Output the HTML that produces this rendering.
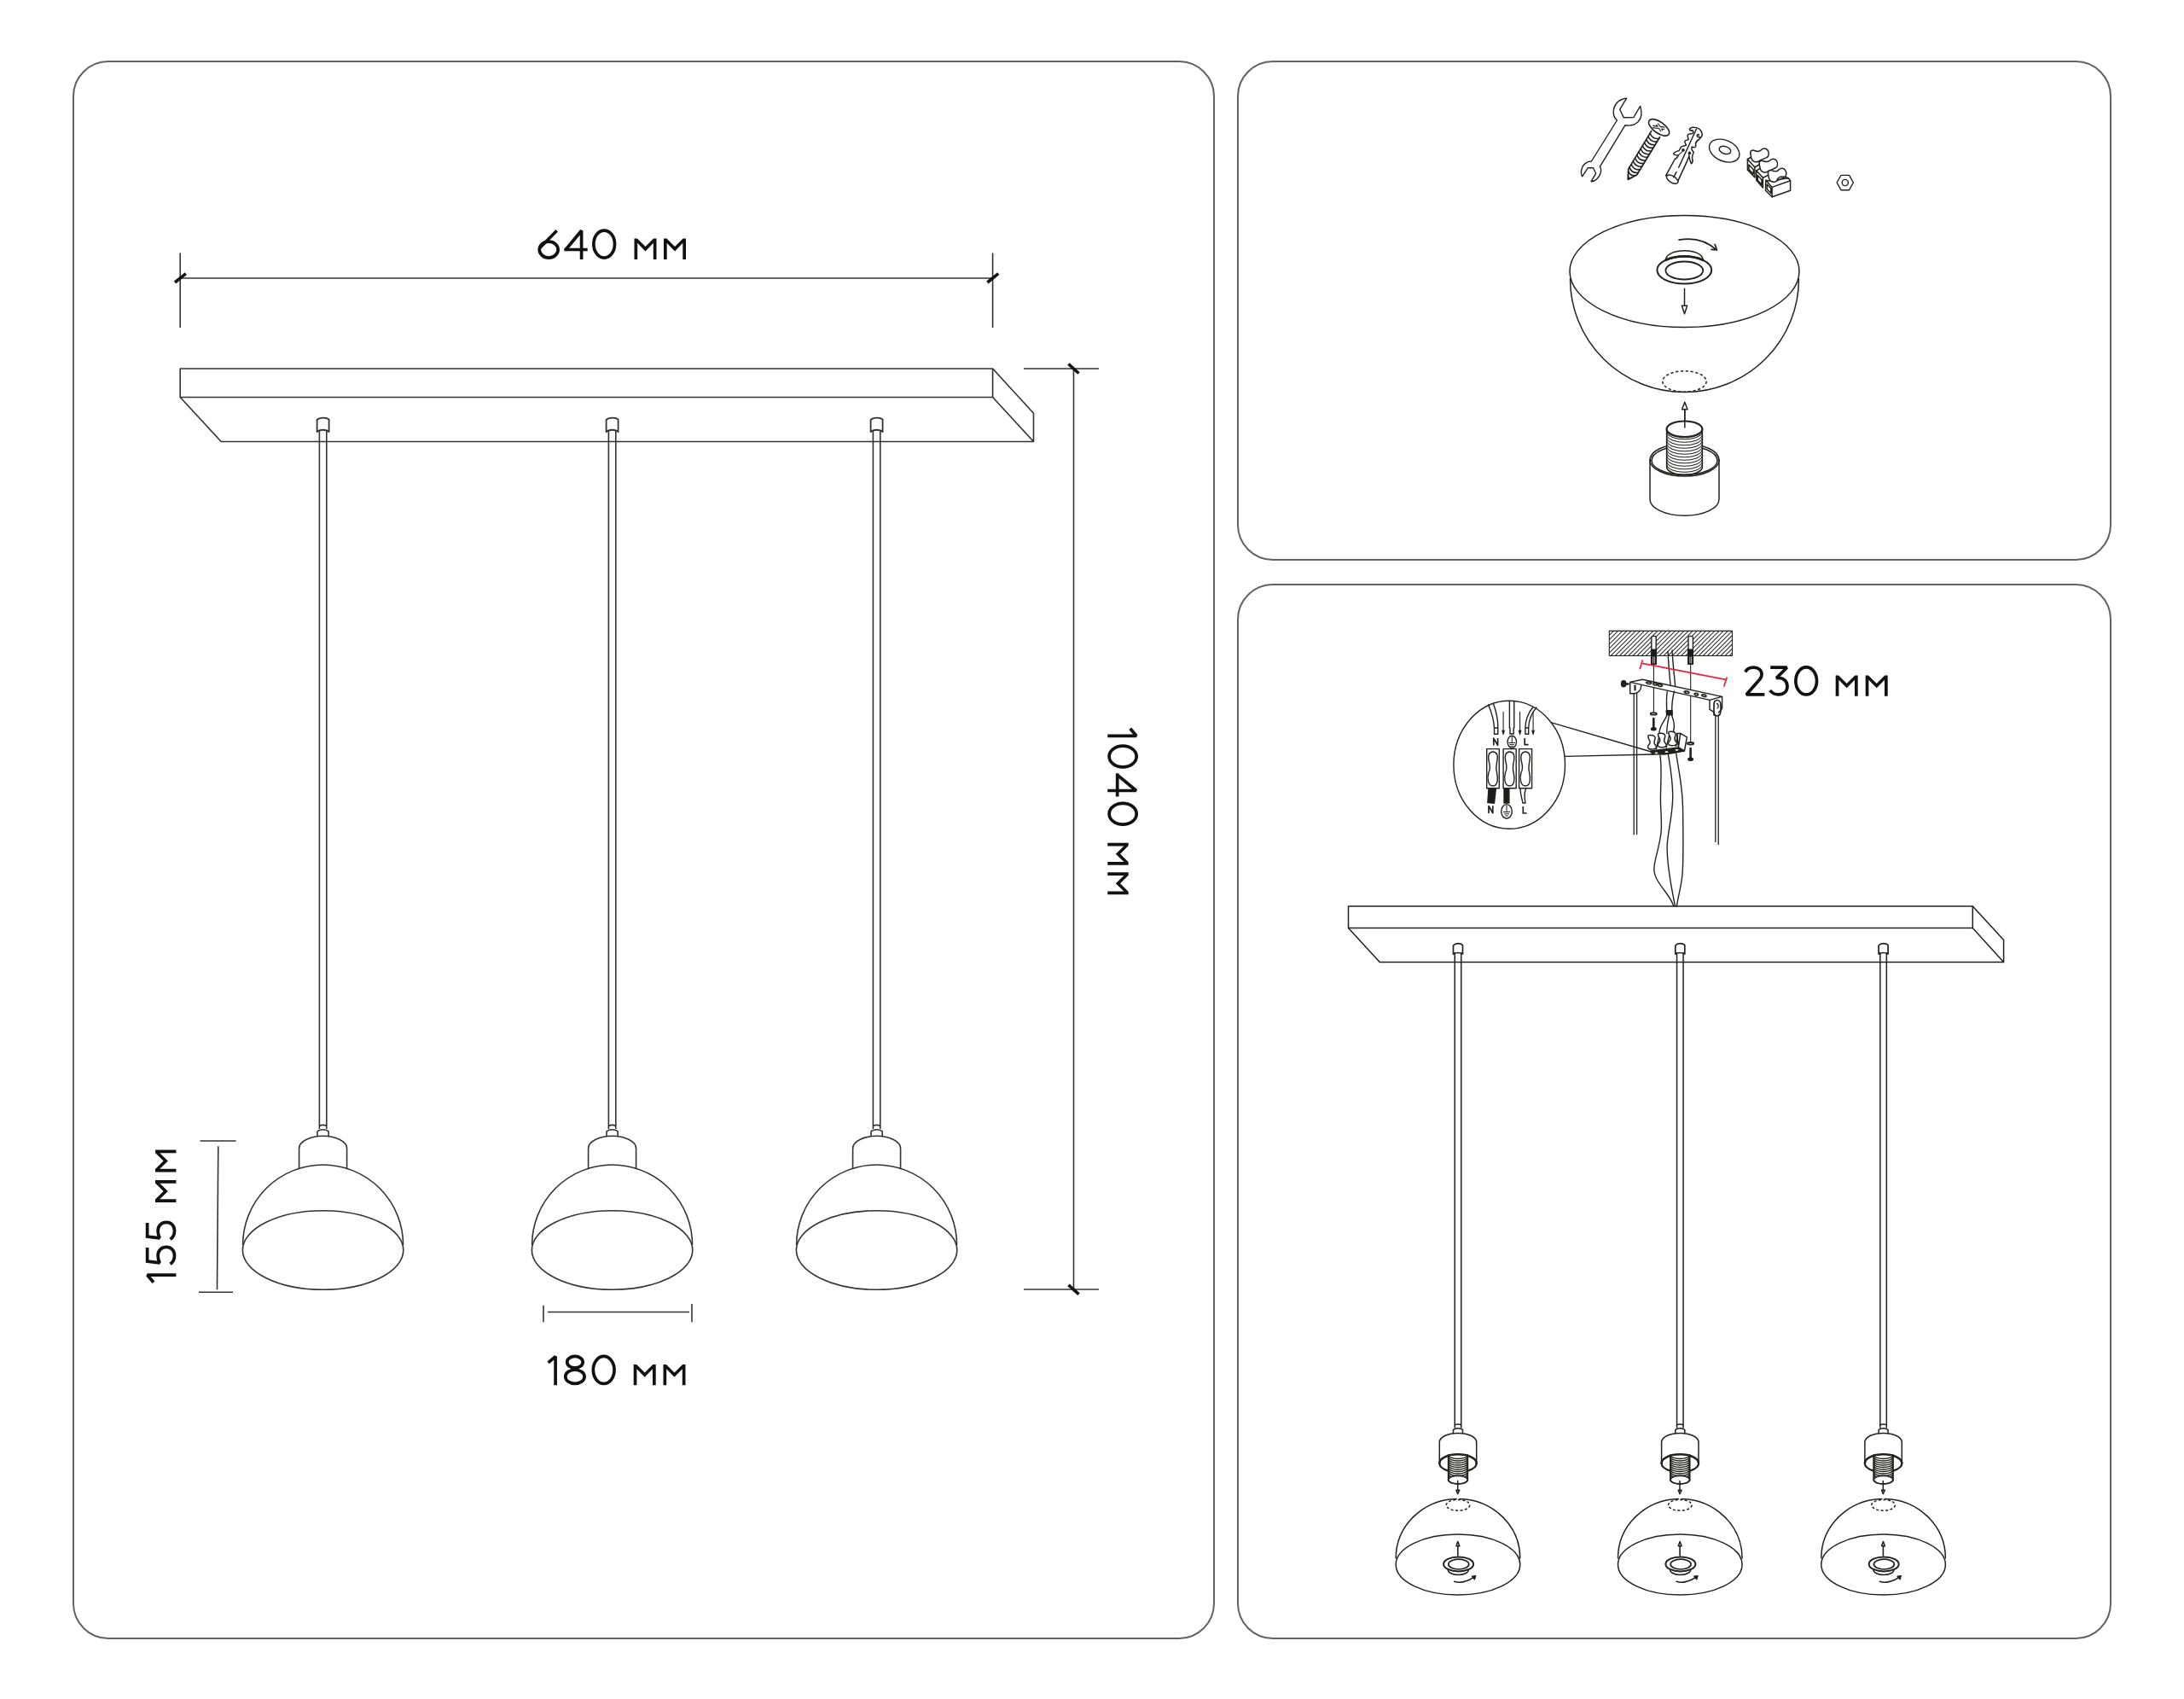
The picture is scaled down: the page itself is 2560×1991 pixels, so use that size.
<!DOCTYPE html>
<html><head><meta charset="utf-8">
<style>
html,body{margin:0;padding:0;background:#fff;}
svg{display:block;}
text{font-family:"Liberation Sans",sans-serif;fill:#111;}
</style></head>
<body>
<svg width="2560" height="1991" viewBox="0 0 2560 1991">
<rect x="0" y="0" width="2560" height="1991" fill="#fff"/>
<defs>
<g id="pendL" fill="none" stroke="#333330" stroke-width="1.6" stroke-linejoin="round">
<path d="M-7,506 V492 C-4,489 4,489 7,491.5 V506 C4,503 -4,503 -7,506 Z" stroke-width="1.8"/>
<path d="M-4.2,504 V1323 M4.2,504 V1323"/>
<path d="M-4.2,1319.5 C-2,1318 2,1318 4.2,1319.5"/>
<path d="M-6.6,1331.3 V1326 C-4,1323 4,1323 6.6,1326 V1331.3"/>
<path d="M-28,1369.5 V1346 C-28,1337 -14,1331.3 0,1331.3 C14,1331.3 28,1337 28,1346 V1369.5"/>
<path d="M-94,1459 A94,94 0 0 1 94,1459"/>
<ellipse cx="0" cy="1465" rx="94.2" ry="46.3"/>
</g>
<g id="pendR" fill="none" stroke="#22221c" stroke-width="1.5" stroke-linejoin="round" stroke-linecap="round">
<path d="M-5.5,1118 V1108 C-3,1105 3,1105 5.5,1107.5 V1118 C3,1116 -3,1116 -5.5,1118 Z" stroke-width="1.7"/>
<path d="M-3.75,1116.5 V1673 M3.75,1116.5 V1673"/>
<path d="M-3.75,1670 C-2,1668.6 2,1668.6 3.75,1670"/>
<path d="M-5.5,1679.4 V1675.5 C-3,1673 3,1673 5.5,1675.5 V1679.4"/>
<path d="M-21.7,1716 V1690 C-21.7,1684 -12,1679.4 0,1679.4 C12,1679.4 21.7,1684 21.7,1690 V1716"/>
<path d="M-21.7,1714.6 A21.7,10.3 0 0 1 21.7,1714.6" stroke-width="2.6"/>
<path d="M-11.3,1706 V1734 A11.3,4.8 0 0 0 11.3,1734 V1706" fill="#fff" stroke-width="1.8"/>
<path d="M-11.3,1704.80 A11.3,4.6 0 0 0 11.3,1704.80 M-11.3,1707.30 A11.3,4.6 0 0 0 11.3,1707.30 M-11.3,1709.80 A11.3,4.6 0 0 0 11.3,1709.80 M-11.3,1712.30 A11.3,4.6 0 0 0 11.3,1712.30 M-11.3,1714.80 A11.3,4.6 0 0 0 11.3,1714.80 M-11.3,1717.30 A11.3,4.6 0 0 0 11.3,1717.30 M-11.3,1719.80 A11.3,4.6 0 0 0 11.3,1719.80 M-11.3,1722.30 A11.3,4.6 0 0 0 11.3,1722.30 M-11.3,1724.80 A11.3,4.6 0 0 0 11.3,1724.80 M-11.3,1727.30 A11.3,4.6 0 0 0 11.3,1727.30 M-11.3,1729.80 A11.3,4.6 0 0 0 11.3,1729.80 " stroke-width="1.45"/>
<path d="M-21.7,1714.6 A21.7,10.3 0 0 0 -11.3,1723.6 M11.3,1723.6 A21.7,10.3 0 0 0 21.7,1714.6" stroke-width="2.2"/>
<ellipse cx="0" cy="1734.1" rx="11.3" ry="4.8" fill="#fff" stroke-width="1.8"/>
<path d="M-0.3,1735.6 V1747 M-2,1746.3 H1.8 L-0.3,1750.8 Z"/>
<path d="M-72.8,1826 A72.8,69.6 0 0 1 -1.8,1756.4 M1.8,1756.4 A72.8,69.6 0 0 1 72.8,1826"/>
<ellipse cx="0" cy="1763.8" rx="13.8" ry="6.4" stroke-dasharray="3 2.4" stroke-linecap="butt"/>
<ellipse cx="0" cy="1833.5" rx="72.8" ry="35.5"/>
<path d="M-0.2,1823 V1811.5 M-2,1811.7 L-0.2,1806.5 L1.8,1811.7 Z" stroke-width="1.6"/>
<path d="M-11.7,1839.5 A12,6 0 0 0 12.4,1839.5"/>
<ellipse cx="0.6" cy="1832.9" rx="17.5" ry="8.5" stroke-width="2" fill="#fff"/>
<ellipse cx="0.8" cy="1833.1" rx="12" ry="5.9" stroke-width="1.7"/>
<path d="M-4.2,1853.3 C0,1855 10,1855 19.9,1847.2" stroke-width="1.7"/>
<path d="M16.6,1847.2 L20.6,1846.7 L19.4,1850.7 Z" fill="#22221c"/>
</g>
</defs>

<!-- panels -->
<g fill="none" stroke="#626262" stroke-width="2">
<rect x="86" y="72" width="1337" height="1848" rx="41" ry="41"/>
<rect x="1451" y="72" width="1023" height="584" rx="41" ry="41"/>
<rect x="1451" y="685" width="1023" height="1235" rx="41" ry="41"/>
</g>

<!-- LEFT PANEL -->
<g id="left" fill="none" stroke="#333330" stroke-width="1.6" stroke-linejoin="round">
<!-- 640 dim -->
<line x1="211.2" y1="296.5" x2="211.2" y2="384"/>
<line x1="1163.6" y1="296.5" x2="1163.6" y2="384"/>
<line x1="211.2" y1="326" x2="1163.6" y2="326"/>
<!-- canopy -->
<path d="M211.2,432 H1163.6 V465.5 H211.2 Z"/>
<path d="M211.2,465.5 L259.2,517.5 H1211.5 V484.3 L1163.6,432 M1163.6,465.5 L1211.5,517.5"/>
<!-- 1040 dim -->
<line x1="1200" y1="432" x2="1288" y2="432"/>
<line x1="1200" y1="1511" x2="1288" y2="1511"/>
<line x1="1258.5" y1="432" x2="1258.5" y2="1511"/>
<!-- 155 dim -->
<line x1="234.5" y1="1337" x2="276.6" y2="1337"/>
<line x1="233" y1="1514.3" x2="273" y2="1514.3"/>
<line x1="255.8" y1="1343.3" x2="254.5" y2="1511.2"/>
<!-- 180 dim -->
<line x1="637" y1="1529.7" x2="637" y2="1549.3"/>
<line x1="811" y1="1528" x2="811" y2="1549.3"/>
<line x1="642" y1="1537.5" x2="808" y2="1537.5"/>
</g>
<!-- ticks -->
<g stroke="#15150f" stroke-width="3.6" stroke-linecap="butt">
<line x1="205" y1="331" x2="217.8" y2="320.6"/>
<line x1="1157.4" y1="331" x2="1170.2" y2="320.6"/>
<line x1="1252.4" y1="426.5" x2="1264.5" y2="437.5"/>
<line x1="1252.4" y1="1505.8" x2="1264.5" y2="1516.7"/>
</g>

<use href="#pendL" transform="translate(378.6,0)"/>
<use href="#pendL" transform="translate(717.6,0)"/>
<use href="#pendL" transform="translate(1027.6,0)"/>


<!-- TOP RIGHT PANEL -->
<g id="tr" fill="none" stroke="#22221c" stroke-width="1.5" stroke-linejoin="round" stroke-linecap="round">
<!-- dome -->
<ellipse cx="1974.5" cy="318" rx="134.5" ry="65.5"/>
<path d="M1840.5,327 A134,132.5 0 0 0 2108.5,327"/>
<!-- ring -->
<path d="M1952.4,304.5 C1954,290 1995,290 1996.2,304.5"/>
<ellipse cx="1974.3" cy="316.5" rx="31.9" ry="16.1" stroke-width="2"/>
<path d="M1952.4,304.8 A31.9,16.1 0 0 1 1996.2,304.8" stroke-width="2.8"/>
<ellipse cx="1974.3" cy="317" rx="21.9" ry="10.5" stroke-width="1.8"/>
<!-- rotate arrow -->
<path d="M1968,281.2 C1985,278 2000,282 2012,292.9 M2010.1,286.3 L2012.5,293 L2006,292.4" stroke-width="1.7"/>
<!-- down arrow -->
<path d="M1974.5,338.3 V358.3 M1971.4,358.3 H1977.7 L1974.5,367.7 Z"/>
<!-- dashed ellipse -->
<ellipse cx="1974.5" cy="447" rx="25.7" ry="12.2" stroke-dasharray="3.2 2.6" stroke-linecap="butt"/>
<!-- up arrow -->
<path d="M1974.8,480 V501 M1971.6,479.8 H1978 L1974.8,471.3 Z"/>
<!-- cup back rim -->
<path d="M1934,539 A40.5,19.1 0 0 1 2015,539" />
<path d="M1936,539.5 A38.5,17 0 0 1 2013,539.5" />
<!-- nipple -->
<path d="M1953.6,502.8 V547 A20.9,9.3 0 0 0 1995.4,547 V502.8 Z" fill="#fff"/>
<path d="M1953.8,506.50 A20.8,9.2 0 0 0 1995.2,506.50 M1953.8,510.00 A20.8,9.2 0 0 0 1995.2,510.00 M1953.8,513.50 A20.8,9.2 0 0 0 1995.2,513.50 M1953.8,517.00 A20.8,9.2 0 0 0 1995.2,517.00 M1953.8,520.50 A20.8,9.2 0 0 0 1995.2,520.50 M1953.8,524.00 A20.8,9.2 0 0 0 1995.2,524.00 M1953.8,527.50 A20.8,9.2 0 0 0 1995.2,527.50 M1953.8,531.00 A20.8,9.2 0 0 0 1995.2,531.00 M1953.8,534.50 A20.8,9.2 0 0 0 1995.2,534.50 M1953.8,538.00 A20.8,9.2 0 0 0 1995.2,538.00 M1953.8,541.50 A20.8,9.2 0 0 0 1995.2,541.50 M1953.8,545.00 A20.8,9.2 0 0 0 1995.2,545.00 M1953.8,548.50 A20.8,9.2 0 0 0 1995.2,548.50 " stroke-width="1.1"/>
<ellipse cx="1974.5" cy="502.8" rx="20.9" ry="9.3" stroke-width="2.2" fill="#fff"/>
<path d="M1974.8,480 V501"/>
<!-- cup front rim + walls -->
<path d="M1934,539 A40.5,19.1 0 0 0 2015,539" />
<path d="M1936,539.5 A38.5,17 0 0 0 2013,539.5" />
<path d="M1934,539 V585 A40.5,19.3 0 0 0 2015,585 V539"/>
</g>

<g id="tools" fill="none" stroke="#22221c" stroke-width="1.4" stroke-linejoin="round" stroke-linecap="round">
<!-- wrench -->
<path d="M1906.7,115.2 C1899,115.5 1893,121 1891.5,128 C1890.5,134 1892.5,138.5 1895.4,141 L1865.4,189 C1860,189 1855,193 1854,198 C1853,202 1853.5,205 1854.8,206.7 L1861.2,196.8 L1867.5,196.8 L1870.7,203.2 L1865.1,212.7 C1870,212.5 1874.5,208 1876,203 C1877,200 1876.5,197 1875.3,195.4 L1905,146.7 C1909,147.5 1915,147.5 1919.8,143.1 C1924,139 1925,132 1922.6,124.4 L1914.9,137.5 L1903.2,137.8 L1898.6,128.3 Z"/>
<!-- screw -->
<path d="M1935.8,153.4 L1908.7,198.1 L1908.2,210.4 L1918.8,204.7 L1945.5,160.7" stroke-width="1.7"/>
<path d="M1934.1,156.2 Q1936.9,163.2 1944.5,162.4 M1931.9,159.8 Q1934.7,166.8 1942.3,166.0 M1929.7,163.4 Q1932.5,170.5 1940.1,169.7 M1927.5,167.1 Q1930.3,174.1 1937.8,173.3 M1925.3,170.7 Q1928.1,177.8 1935.6,176.9 M1923.1,174.3 Q1925.9,181.4 1933.4,180.6 M1920.9,178.0 Q1923.7,185.0 1931.2,184.2 M1918.7,181.6 Q1921.5,188.7 1929.0,187.9 M1916.5,185.2 Q1919.3,192.3 1926.8,191.5 M1914.3,188.9 Q1917.1,195.9 1924.6,195.1 M1912.1,192.5 Q1914.9,199.6 1922.4,198.8 M1909.9,196.1 Q1912.7,203.2 1920.2,202.4 M1908.6,200.3 Q1910.5,206.9 1917.2,205.6 M1908.4,205.2 Q1908.3,210.5 1912.9,207.9 " stroke-width="1.6"/>
<ellipse cx="1944.6" cy="149.4" rx="14" ry="6.6" transform="rotate(35.5 1944.6 149.4)" fill="#fff" stroke-width="1.6"/>
<path d="M1937.2,148.5 L1951.3,150.3 M1942.4,145.2 L1948,153.6" stroke-width="3.4" stroke-linecap="butt"/>
<path d="M1937.2,148.5 L1951.3,150.3 M1942.4,145.2 L1948,153.6" stroke="#fff" stroke-width="1.2" stroke-linecap="butt"/>
<!-- anchor -->
<path d="M1952.6,205.9 L1963.2,186.5 C1966,185 1967.5,183 1966.8,182.1 C1964,182 1961,181 1962,179.5 C1964,177.5 1967.5,177 1968.5,175.9 L1970.7,171.9 L1976.5,170.2 C1976,168.5 1974,167 1975,165.5 C1976,164 1978,164 1979.1,163.5 C1978.5,161 1977.5,159 1978.5,157.8 C1980,156.5 1982.5,156.8 1983.5,156.5 C1985.5,155.5 1985,153 1983.5,152.9 C1982,152.5 1980.5,153.5 1980.4,151.5 C1981,149.5 1984,149 1986,149.2 C1990,149.5 1994,152 1995,156 C1996,159 1994.5,161 1992,161 C1989.5,161 1988.5,159 1989.5,158 C1990.5,157 1991.5,158 1991.3,158.8 M1995,156.5 C1996,160 1993,162 1991.5,163.5 C1989,165 1987.5,167 1987.5,168.5 C1988,171 1988,172.4 1985.3,172.8 L1983.5,171.9 C1982,173 1983,176 1985.3,178.5 C1984,181 1983.5,183.8 1983.5,185 C1984,187 1985,189.5 1982.7,191.8 C1981,190 1980.5,186 1980,183 L1977.4,189.1 L1966.8,212.1" stroke-width="1.5"/>
<ellipse cx="1960.2" cy="210.2" rx="7.6" ry="3.8" transform="rotate(32 1960.2 210.2)" stroke-width="1.5"/>
<path d="M1988.4,151.2 L1967.7,196.2 M1965,201.5 L1961.9,207.7" stroke-width="1.5"/>
<path d="M1980.4,151.5 C1982,154 1985,153 1983.5,152.9" stroke-width="1.2"/>
<circle cx="1973" cy="175.9" r="1.1" fill="#22221c"/>
<circle cx="1980.4" cy="179.4" r="1.1" fill="#22221c"/>
<path d="M1966.8,182.1 C1969,181 1971.5,178 1973,176 M1980,183 C1979.5,180 1980,179.5 1980.4,179.4" stroke-width="1.2"/>
<!-- washer -->
<ellipse cx="2021.2" cy="176.6" rx="18.6" ry="12.2" transform="rotate(24 2021.2 176.6)"/>
<ellipse cx="2022" cy="175.9" rx="7" ry="4.3" transform="rotate(18 2022 175.9)"/>
<!-- terminal block -->
<g stroke-width="1.5">
<path d="M2048.4,199.1 L2056.9,207.9 L2056.9,196 L2048.4,186.5 Z M2050,193 L2055.3,198.8 L2055.3,204 L2050,198.5 Z" fill="#fff"/>
<path d="M2048.4,186.5 L2053,184 M2056.9,196 L2062,193"/>
<path d="M2052,181 C2051,176.5 2054,175.5 2056.5,176.5 C2059,177.5 2061.5,178.5 2064,176 C2066,173.5 2070,173 2072,176 C2074,179 2073.5,183 2071,184.5 C2068,186.5 2064.5,186.5 2061.5,189 C2058,191 2054,189 2053,186 Z" fill="#fff"/>
<path d="M2058.8,211.3 L2066.4,220.1 L2066.4,208.3 L2058.8,199.9 Z M2060.3,205.5 L2065,210.8 L2065,216.5 L2060.3,211.2 Z" fill="#fff"/>
<path d="M2058.8,199.9 L2063,197.5 M2066.4,208.3 L2072,205.5"/>
<path d="M2062.3,193.2 C2061.3,188.7 2064.3,187.7 2066.8,188.7 C2069.3,189.7 2071.8,190.7 2074.3,188.2 C2076.3,185.7 2080.3,185.2 2082.3,188.2 C2084.3,191.2 2083.8,195.2 2081.3,196.7 C2078.3,198.7 2074.8,198.7 2071.8,201.2 C2068.3,203.2 2064.3,201.2 2063.3,198.2 Z" fill="#fff"/>
<path d="M2069.5,223.2 L2077.1,230.8 L2098.6,223.2 L2098.6,211.7 L2096.3,208.7 L2073,212 L2069.9,211.3 Z" fill="#fff"/>
<path d="M2069.9,211.3 L2077.1,219.4 L2098.6,211.7 M2077.1,219.4 V230.8 M2071.2,216 L2075.8,220.7 L2075.8,226.5 L2071.2,221.6 Z"/>
<path d="M2072.6,204.4 C2071.6,199.9 2074.6,198.9 2077.1,199.9 C2079.6,200.9 2082.1,201.9 2084.6,199.4 C2086.6,196.9 2090.6,196.4 2092.6,199.4 C2094.6,202.4 2094.1,206.4 2091.6,207.9 C2088.6,209.9 2085.1,209.9 2082.1,212.4 C2078.6,214.4 2074.6,212.4 2073.6,209.4 Z" fill="#fff"/>
<path d="M2083,210.5 C2085,207 2089,206.5 2093,207.5 L2096.3,208.7" fill="none"/>
</g>
<!-- nut -->
<path d="M2153.1,214 L2158,205.4 L2167.6,205.4 L2172.4,214 L2167.6,222.7 L2158,222.7 Z"/>
<circle cx="2162.8" cy="214" r="3.6"/>
</g>

<!-- BOTTOM RIGHT PANEL -->
<g id="br" fill="none" stroke="#22221c" stroke-width="1.5" stroke-linejoin="round">
<path d="M1580.5,1062 H2312.3 V1087.6 H1580.5 Z"/>
<path d="M1580.5,1087.6 L1617.3,1127.5 H2348.6 V1101.5 L2312.3,1062 M2312.3,1087.6 L2348.6,1127.5"/>
</g>
<use href="#pendR" transform="translate(1709,0)"/>
<use href="#pendR" transform="translate(1969.3,0)"/>
<use href="#pendR" transform="translate(2207.6,0)"/>

<clipPath id="hclip"><rect x="1886.3" y="739.4" width="144.2" height="29.1"/></clipPath>
<g id="brtop" fill="none" stroke="#22221c" stroke-width="1.4" stroke-linejoin="round" stroke-linecap="round">
<g clip-path="url(#hclip)"><path d="M1857.2,768.5 L1886.3,739.4 M1862.3,768.5 L1891.4,739.4 M1867.5,768.5 L1896.6,739.4 M1872.7,768.5 L1901.8,739.4 M1877.8,768.5 L1906.9,739.4 M1883.0,768.5 L1912.1,739.4 M1888.1,768.5 L1917.2,739.4 M1893.3,768.5 L1922.4,739.4 M1898.4,768.5 L1927.5,739.4 M1903.6,768.5 L1932.7,739.4 M1908.7,768.5 L1937.8,739.4 M1913.9,768.5 L1943.0,739.4 M1919.0,768.5 L1948.1,739.4 M1924.2,768.5 L1953.3,739.4 M1929.3,768.5 L1958.4,739.4 M1934.5,768.5 L1963.6,739.4 M1939.6,768.5 L1968.7,739.4 M1944.8,768.5 L1973.9,739.4 M1949.9,768.5 L1979.0,739.4 M1955.1,768.5 L1984.2,739.4 M1960.2,768.5 L1989.3,739.4 M1965.4,768.5 L1994.5,739.4 M1970.5,768.5 L1999.6,739.4 M1975.7,768.5 L2004.8,739.4 M1980.8,768.5 L2009.9,739.4 M1986.0,768.5 L2015.1,739.4 M1991.1,768.5 L2020.2,739.4 M1996.3,768.5 L2025.4,739.4 M2001.4,768.5 L2030.5,739.4 M2006.6,768.5 L2035.7,739.4 M2011.7,768.5 L2040.8,739.4 M2016.9,768.5 L2046.0,739.4 M2022.0,768.5 L2051.1,739.4 M2027.2,768.5 L2056.3,739.4 " stroke-width="1.1" stroke="#353532"/></g>
<rect x="1886.3" y="739.4" width="144.2" height="29.1" stroke-width="1.1"/>
<!-- ceiling anchors -->
<path d="M1935.8,778 V746.5 C1937,745 1940,745 1941.2,746.5 V778 Z" fill="#fff"/>
<path d="M1935.8,761 H1941.2 V778.5 H1935.8 Z" fill="#1c1c18" stroke-width="1"/>
<path d="M1937.6,770 V777 M1939.4,770 V777" stroke="#fff" stroke-width="0.7"/>
<path d="M1979,778 V746.5 C1980,745 1983,745 1984.4,746.5 V778 Z" fill="#fff"/>
<path d="M1979,761 H1984.4 V778.5 H1979 Z" fill="#1c1c18" stroke-width="1"/>
<path d="M1980.8,770 V777 M1982.6,770 V777" stroke="#fff" stroke-width="0.7"/>
<path d="M1938.4,778.5 V834 M1981.7,778.5 V869.5" stroke-width="1.1"/>
<!-- cable from ceiling -->
<path d="M1955,763.5 C1956,780 1957,795 1958.5,806 M1960,762 C1961,780 1963,795 1963.8,806" fill="none"/>
<path d="M1958.5,806 C1959,808 1963,808 1963.8,806" />
<!-- bracket -->
<path d="M1910.7,799.4 L1925.3,796.2 L2018.6,816.4 L2004,820.4 Z" fill="#fff"/>
<path d="M1910.7,799.4 V812.7 H1916 C1920,812 1923.7,809 1923.7,803.3"/>
<path d="M2004,820.4 V831.4 L2009.2,834.7 M2018.6,816.4 V830.2 L2014.5,835"/>
<path d="M2009,838 V826 C2009,822 2011,820.5 2013,820.5 C2015.5,820.5 2017,823 2017,826 V832 C2017,836 2015.5,839 2013,839 C2011,839 2009,837 2009,834" stroke-width="1.7"/>
<path d="M2012.5,824.5 C2014.5,825 2015,829 2013,830" stroke-width="1.3"/>
<path d="M1916.5,803.5 V808.5" stroke-width="2.2"/>
<ellipse cx="1903.2" cy="801.3" rx="2.7" ry="3.6" fill="#22221c"/>
<path d="M1905,801.5 H1908.5" stroke-width="2.6"/>
<path d="M1929.5,799.8 C1931,798.5 1935.5,799 1935.5,800.8 C1934,802 1930.5,801.5 1929.5,799.8 Z M1937.5,801 C1939,799.8 1942.5,800.5 1942,802.5 C1940.5,803.5 1938,803 1937.5,801 Z M1942.5,802.3 C1944,801 1949,802 1948.5,803.8 C1947,805 1943.5,804.3 1942.5,802.3 Z" stroke-width="1.6"/>
<path d="M1974,810.6 C1975.5,809.3 1980,810 1980,811.8 C1978.5,813 1975,812.5 1974,810.6 Z M1986,813 C1987.5,811.7 1991,812.5 1990.5,814.5 C1989,815.5 1986.5,815 1986,813 Z M1994.5,814.5 C1996,813.2 2000.5,814 2000,816 C1998.5,817 1995.5,816.5 1994.5,814.5 Z" stroke-width="1.6"/>
<!-- cable below bracket -->
<path d="M1954.2,810.5 C1953,818 1953.5,826 1953.8,833.5 M1962.5,810 C1960.5,818 1959.5,826 1959.8,833.5"/>
<path d="M1953.2,832.8 L1960,832.8 L1960.3,837.8 L1953.6,837.8 Z" fill="#1c1c18"/>
<path d="M1954,838 C1951,846 1944.5,850 1945,860 M1956.5,838 C1955,846 1953.5,852 1953.8,859.5 M1959.5,838 C1962,845 1963.5,850 1961.5,857.5"/>
<!-- screws / washers -->
<ellipse cx="1938.3" cy="836.4" rx="3.6" ry="1.3" stroke-width="1.8"/>
<path d="M1938.3,842 V853" stroke-width="2.6"/>
<ellipse cx="1938.3" cy="854.2" rx="2.8" ry="1.5" fill="#1c1c18"/>
<ellipse cx="1981.6" cy="871.3" rx="3.6" ry="1.3" stroke-width="1.8"/>
<path d="M1981.6,877 V888.5" stroke-width="2.6"/>
<ellipse cx="1981.6" cy="889.8" rx="2.8" ry="1.5" fill="#1c1c18"/>
<!-- terminal block -->
<path d="M1965.6,859.4 L1969.7,859.4 L1977.4,863.8 L1974.4,880 L1967.4,875.9 Z M1969.7,859.4 L1967.4,875.9" fill="#fff" stroke-width="1.5"/>
<path d="M1934.7,880 L1967.4,876 L1974.4,880 L1962.4,882.4 L1950.6,884.1 L1936.8,883.8 Z" fill="#22221c" stroke-width="1.4"/>
<ellipse cx="1941.5" cy="882.3" rx="2" ry="0.9" fill="#fff" stroke="none"/>
<ellipse cx="1953.5" cy="881.2" rx="2" ry="0.9" fill="#fff" stroke="none"/>
<ellipse cx="1965.5" cy="878.8" rx="2" ry="0.9" fill="#fff" stroke="none"/>
<path d="M1941.3,878 L1944.5,864 M1953.2,876 L1956.5,862 M1964.5,874.5 L1966,861" stroke-width="1.4"/>
<path d="M1933.6,861.6 C1937.6,861.1 1940.6,862.6 1940.1,865.6 C1939.6,867.6 1938.6,868.6 1939.1,871.1 C1939.6,872.6 1941.6,874.1 1941.6,875.6 C1941.6,877.6 1938.6,878.1 1935.6,878.1 C1932.6,878.1 1931.1,876.6 1931.6,874.6 C1932.1,873.1 1934.1,872.1 1934.1,869.6 C1934.1,867.6 1932.6,866.6 1932.1,864.6 C1931.6,862.6 1931.6,861.6 1933.6,861.6 Z" fill="#fff" stroke-width="1.5"/>
<path d="M1945.3,859.3 C1949.3,858.8 1952.3,860.3 1951.8,863.3 C1951.3,865.3 1950.3,866.3 1950.8,868.8 C1951.3,870.3 1953.3,871.8 1953.3,873.3 C1953.3,875.3 1950.3,875.8 1947.3,875.8 C1944.3,875.8 1942.8,874.3 1943.3,872.3 C1943.8,870.8 1945.8,869.8 1945.8,867.3 C1945.8,865.3 1944.3,864.3 1943.8,862.3 C1943.3,860.3 1943.3,859.3 1945.3,859.3 Z" fill="#fff" stroke-width="1.5"/>
<path d="M1957.6,857.3 C1961.6,856.8 1964.6,858.3 1964.1,861.3 C1963.6,863.3 1962.6,864.3 1963.1,866.8 C1963.6,868.3 1965.6,869.8 1965.6,871.3 C1965.6,873.3 1962.6,873.8 1959.6,873.8 C1956.6,873.8 1955.1,872.3 1955.6,870.3 C1956.1,868.8 1958.1,867.8 1958.1,865.3 C1958.1,863.3 1956.6,862.3 1956.1,860.3 C1955.6,858.3 1955.6,857.3 1957.6,857.3 Z" fill="#fff" stroke-width="1.5"/>
<!-- wires down -->
<path d="M1945.9,885.3 C1948.5,900 1946,925 1946.5,940.7 C1947,955 1948,965 1947.1,975 C1945,995 1938,1010 1938.9,1020 C1940,1035 1958,1048 1961.8,1062"/>
<path d="M1955.4,884.1 C1958,900 1961,915 1960.7,935 C1960.5,955 1955,975 1954.2,990 C1953.5,1010 1959,1040 1963.6,1062"/>
<path d="M1964.8,883 C1967,900 1972,920 1972.5,945 C1973,975 1973.5,1005 1972,1025 C1970.5,1040 1967,1050 1965.4,1062"/>
<!-- rods -->
<path d="M1915.2,812.5 V977.8 M1918.6,812.5 V977.8" stroke-width="1.3"/>
<path d="M2010.8,838 V986.6 M2014.2,838 V989.6" stroke-width="1.3"/>

<!-- magnifier -->
<ellipse cx="1769.2" cy="896.3" rx="65.3" ry="75"/>
<path d="M1818,846.6 L1935.5,881 M1834.5,886.4 L1939,884"/>
<path d="M1744.7,826 C1748,834 1751,842 1751.5,853 M1750.5,825 C1754,834 1756,842 1755.8,853 M1751.5,853 H1755.8 V860.3 H1751.5 Z"/>
<path d="M1769.4,822 V853 M1774.8,822 V853 M1770,853 V860 H1774.2 V853"/>
<path d="M1797,828.5 C1791,836 1788,843 1787.9,853 M1801,829 C1795,836 1792,843 1791.7,853 M1787.9,853 H1791.7 V860.3 H1787.9 Z"/>
<path d="M1762.1,834.4 V860.6 M1760.8,856 L1762.1,860.6 L1763.4,856 M1781.6,834.4 V860.6 M1780.3,856 L1781.6,860.6 L1782.9,856 M1797.1,834.4 V860.6 M1795.8,856 L1797.1,860.6 L1798.4,856" stroke-width="1.1"/>
<path d="M1742.7,877.6 H1757.3 V923.7 H1742.7 Z M1762.1,877.6 H1777.2 V923.7 H1762.1 Z M1780.6,877.6 H1795.6 V923.7 H1780.6 Z"/>
<path d="M1750,881 C1745,881 1744,886 1745,891 C1746,896 1748,900 1745,905 C1743,912 1744,921 1750,921 C1756,921 1756,912 1754.5,905 C1753,900 1754,896 1755,891 C1756,886 1755,881 1750,881 Z"/>
<path d="M1769.6,881 C1764.6,881 1763.6,886 1764.6,891 C1765.6,896 1767.6,900 1764.6,905 C1762.6,912 1763.6,921 1769.6,921 C1775.6,921 1775.6,912 1774.1,905 C1772.6,900 1773.6,896 1774.6,891 C1775.6,886 1774.6,881 1769.6,881 Z"/>
<path d="M1788.1,881 C1783.1,881 1782.1,886 1783.1,891 C1784.1,896 1786.1,900 1783.1,905 C1781.1,912 1782.1,921 1788.1,921 C1794.1,921 1794.1,912 1792.6,905 C1791.1,900 1792.1,896 1793.1,891 C1794.1,886 1793.1,881 1788.1,881 Z"/>
<path d="M1745,924 L1753.4,924 L1751.5,941.2 L1743.8,940.5 Z M1763,924 H1768.9 V941 H1763 Z" fill="#1c1c18"/>
<path d="M1782,924 C1782,930 1784,936 1785,941 L1788,941 C1787,936 1786.5,930 1788.5,924"/>
<ellipse cx="1772.3" cy="869.4" rx="5.2" ry="7.2" fill="#fff"/>
<path d="M1772.3,863.5 V870.5 M1769,870.5 H1775.6 M1769.9,872.6 H1774.7 M1771,874.6 H1773.6" stroke-width="1"/>
<ellipse cx="1766" cy="950.9" rx="6.3" ry="8.3"/>
<path d="M1766,944 V951.5 M1762.3,951.5 H1769.7 M1763.4,953.8 H1768.6 M1764.6,956 H1767.4" stroke-width="1"/>
</g>
<g fill="none" stroke="#22221c" stroke-width="1.7" stroke-linejoin="round" stroke-linecap="butt">
<path d="M1750.8,873.5 V865.2 L1755.6,873.3 V865"/>
<path d="M1787.2,865 V872.6 H1791.6"/>
<path d="M1745,953 V944.5 L1749.8,952.8 V944.3"/>
<path d="M1785.3,945 V953 H1789.6"/>
</g>
<!-- red dim -->
<g stroke="#e8253c" stroke-width="1.7" fill="none">
<path d="M1925,777.3 L2022.9,796.3 M1925.4,773.2 L1922.1,784.2 M2024.3,793.4 L2020.7,804.7"/>
</g>
<!-- LABELS -->
<g transform="translate(0,303.9)" fill="none" stroke="#111" stroke-width="3.7" stroke-linejoin="miter" stroke-miterlimit="1.6" stroke-linecap="butt"><g transform="translate(630.4,0)"><ellipse cx="12.8" cy="-11.35" rx="10.95" ry="9.5"/><path d="M22.3,-33.6 L2.6,-13.6"/></g><g transform="translate(661.3,0)"><path d="M0,-11.4 H27.4 M20.3,0 V-33.6 L1.9,-11.4"/></g><g transform="translate(694,0)"><ellipse cx="14.2" cy="-17.85" rx="12.35" ry="16"/></g><g transform="translate(743.5,0)"><path d="M0,0 H3.7 V-19.1 L13,-9.5 L22.3,-19.1 V0 H26 V-24.4 H22.6 L13,-14.8 L3.4,-24.4 H0 Z" fill="#111" stroke="none"/></g><g transform="translate(778,0)"><path d="M0,0 H3.7 V-19.1 L13,-9.5 L22.3,-19.1 V0 H26 V-24.4 H22.6 L13,-14.8 L3.4,-24.4 H0 Z" fill="#111" stroke="none"/></g></g>
<g transform="translate(0,1623.3)" fill="none" stroke="#111" stroke-width="3.7" stroke-linejoin="miter" stroke-miterlimit="1.6" stroke-linecap="butt"><g transform="translate(641.3,0)"><path d="M1.3,-26.4 L9.8,-33.75 V0"/></g><g transform="translate(660.9,0)"><ellipse cx="13.05" cy="-27.1" rx="9.25" ry="6.75"/><ellipse cx="13.05" cy="-9.95" rx="11.2" ry="8.1"/></g><g transform="translate(693.5,0)"><ellipse cx="14.2" cy="-17.85" rx="12.35" ry="16"/></g><g transform="translate(742.7,0)"><path d="M0,0 H3.7 V-19.1 L13,-9.5 L22.3,-19.1 V0 H26 V-24.4 H22.6 L13,-14.8 L3.4,-24.4 H0 Z" fill="#111" stroke="none"/></g><g transform="translate(777.5,0)"><path d="M0,0 H3.7 V-19.1 L13,-9.5 L22.3,-19.1 V0 H26 V-24.4 H22.6 L13,-14.8 L3.4,-24.4 H0 Z" fill="#111" stroke="none"/></g></g>
<g transform="translate(0,815.8)" fill="none" stroke="#111" stroke-width="3.7" stroke-linejoin="miter" stroke-miterlimit="1.6" stroke-linecap="butt"><g transform="translate(2044.5,0)"><path d="M1.5,-28.2 C2.8,-32 6.8,-33.6 11.2,-33.6 C16.8,-33.6 20.5,-30.2 20.5,-25.6 C20.5,-22.3 18.8,-20 16.3,-17.5 L2.5,-1.85 H23.9"/></g><g transform="translate(2073.4,0)"><path d="M1.8,-33.6 H21.2 L8.8,-21.2 C9.8,-21.3 10.8,-21.3 11.8,-21.3 C17.8,-21.3 21.6,-17 21.6,-11.4 C21.6,-5.5 17.2,-1.85 11.4,-1.85 C7.2,-1.85 3.5,-3.8 1.3,-6.8"/></g><g transform="translate(2103,0)"><ellipse cx="14.2" cy="-17.85" rx="12.35" ry="16"/></g><g transform="translate(2151.7,0)"><path d="M0,0 H3.7 V-19.1 L13,-9.5 L22.3,-19.1 V0 H26 V-24.4 H22.6 L13,-14.8 L3.4,-24.4 H0 Z" fill="#111" stroke="none"/></g><g transform="translate(2186.7,0)"><path d="M0,0 H3.7 V-19.1 L13,-9.5 L22.3,-19.1 V0 H26 V-24.4 H22.6 L13,-14.8 L3.4,-24.4 H0 Z" fill="#111" stroke="none"/></g></g>
<g transform="translate(206.4,1504) rotate(-90)" fill="none" stroke="#111" stroke-width="3.7" stroke-linejoin="miter" stroke-miterlimit="1.6" stroke-linecap="butt"><g transform="translate(0,0)"><path d="M1.3,-26.4 L9.8,-33.75 V0"/></g><g transform="translate(21.5,0)"><path d="M20.6,-33.75 H4.3 L2.6,-19.2 C5.3,-20.6 8.2,-21.3 11,-21.3 C17.3,-21.3 21.1,-17 21.1,-11.3 C21.1,-5.5 16.8,-1.85 11,-1.85 C6.8,-1.85 3.3,-3.8 1.2,-6.8"/></g><g transform="translate(50.5,0)"><path d="M20.6,-33.75 H4.3 L2.6,-19.2 C5.3,-20.6 8.2,-21.3 11,-21.3 C17.3,-21.3 21.1,-17 21.1,-11.3 C21.1,-5.5 16.8,-1.85 11,-1.85 C6.8,-1.85 3.3,-3.8 1.2,-6.8"/></g><g transform="translate(95,0)"><path d="M0,0 H3.7 V-19.1 L13,-9.5 L22.3,-19.1 V0 H26 V-24.4 H22.6 L13,-14.8 L3.4,-24.4 H0 Z" fill="#111" stroke="none"/></g><g transform="translate(130.5,0)"><path d="M0,0 H3.7 V-19.1 L13,-9.5 L22.3,-19.1 V0 H26 V-24.4 H22.6 L13,-14.8 L3.4,-24.4 H0 Z" fill="#111" stroke="none"/></g></g>
<g transform="translate(1298.3,852.5) rotate(90)" fill="none" stroke="#111" stroke-width="3.7" stroke-linejoin="miter" stroke-miterlimit="1.6" stroke-linecap="butt"><g transform="translate(0,0)"><path d="M1.3,-26.4 L9.8,-33.75 V0"/></g><g transform="translate(19.8,0)"><ellipse cx="14.2" cy="-17.85" rx="12.35" ry="16"/></g><g transform="translate(53.7,0)"><path d="M0,-11.4 H27.4 M20.3,0 V-33.6 L1.9,-11.4"/></g><g transform="translate(87,0)"><ellipse cx="14.2" cy="-17.85" rx="12.35" ry="16"/></g><g transform="translate(135.2,0)"><path d="M0,0 H3.7 V-19.1 L13,-9.5 L22.3,-19.1 V0 H26 V-24.4 H22.6 L13,-14.8 L3.4,-24.4 H0 Z" fill="#111" stroke="none"/></g><g transform="translate(169.8,0)"><path d="M0,0 H3.7 V-19.1 L13,-9.5 L22.3,-19.1 V0 H26 V-24.4 H22.6 L13,-14.8 L3.4,-24.4 H0 Z" fill="#111" stroke="none"/></g></g>
</svg>
</body></html>
